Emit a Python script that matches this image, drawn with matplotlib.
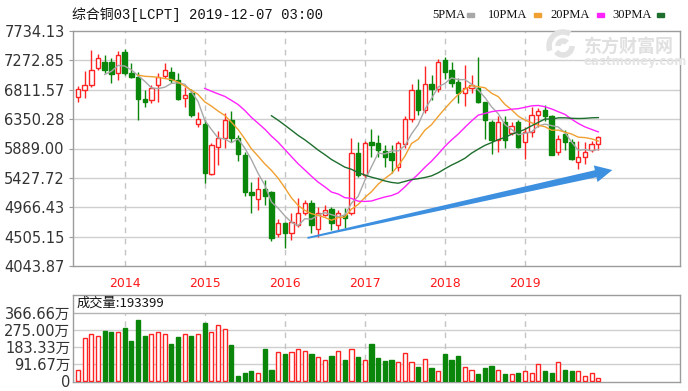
import numpy as np
import pandas as pd
import matplotlib
matplotlib.use('Agg')
import matplotlib.pyplot as plt
from matplotlib.patches import Rectangle, Polygon, Arc
from matplotlib.transforms import IdentityTransform

# ---------------- data ----------------
months = pd.period_range('2013-06', '2019-12', freq='M')

opens = [6700, 6800, 6880, 7153, 7247, 7247, 7074,
         7404, 7074, 7011, 6666, 6651, 6886, 7027, 7090, 6964, 6682, 6760, 6273,
         6274, 5490, 5920, 6060, 6330, 6060, 5780, 5206, 5100, 5250, 5200, 4550,
         4720, 4560, 4690, 4880, 5030, 4630, 4850, 4940, 4680, 4850, 4880, 5820,
         5470, 5990, 5980, 5850, 5820, 5600, 5960, 6350, 6800, 6490, 6900, 6830,
         7279, 7121, 6934, 6760, 6840, 6840, 6620, 6310, 6030, 6300, 6140, 6300,
         5990, 6150, 6420, 6490, 6400, 5840, 6120, 5990, 5680, 5760, 5870, 5960]
highs = [6870, 7110, 7430, 7373, 7357, 7310, 7420,
         7451, 7231, 7090, 6807, 6886, 7074, 7231, 7168, 7074, 6854, 6823, 6462,
         6330, 5975, 6160, 6440, 6480, 6100, 5830, 5360, 5440, 5390, 5220, 4780,
         4740, 4880, 5110, 5080, 5080, 4970, 5000, 4970, 4930, 4950, 6050, 5990,
         6000, 6200, 6100, 5940, 5950, 6000, 6400, 6900, 6980, 7180, 7050, 7300,
         7330, 7247, 6990, 7200, 7040, 7330, 6620, 6340, 6400, 6400, 6300, 6340,
         6230, 6540, 6530, 6570, 6420, 6100, 6180, 6040, 6000, 5990, 6000, 6090]
lows = [6620, 6680, 6850, 7121, 7074, 6917, 6965,
        7040, 7000, 6336, 6540, 6603, 6619, 6996, 6917, 6651, 6541, 6384, 6227,
        5347, 5473, 5630, 5900, 5990, 5700, 5150, 4870, 4930, 5000, 4440, 4500,
        4330, 4460, 4660, 4840, 4560, 4500, 4830, 4610, 4600, 4640, 4850, 5440,
        5420, 5750, 5750, 5600, 5500, 5540, 5900, 6300, 6410, 6450, 6650, 6770,
        6980, 6854, 6600, 6560, 6760, 6600, 6040, 5800, 5830, 5890, 6105, 5890,
        5730, 6070, 6230, 6320, 5780, 5790, 5870, 5710, 5570, 5650, 5840, 5870]
closes = [6820, 6890, 7120, 7310, 7121, 7058, 7357,
          7074, 7011, 6666, 6619, 6839, 7011, 7121, 6964, 6666, 6729, 6415, 6352,
          5504, 5944, 6060, 6330, 6060, 5810, 5210, 5160, 5250, 5150, 4480, 4720,
          4560, 4740, 4880, 5030, 4690, 4880, 4930, 4720, 4880, 4800, 5820, 5470,
          5970, 5950, 5870, 5760, 5710, 5970, 6350, 6800, 6490, 6900, 6830, 7250,
          7090, 6917, 6760, 6840, 6890, 6620, 6340, 6030, 6300, 6030, 6250, 5910,
          6150, 6420, 6480, 6400, 5790, 6040, 5990, 5730, 5760, 5840, 5960, 6070]
# volume in 万 (10,000 lots)
volumes = [61, 229, 252, 244, 271, 264, 264,
           286, 216, 325, 244, 254, 264, 254, 200, 239, 254, 244, 254,
           309, 264, 300, 277, 193, 31, 46, 53, 46, 170, 61, 155,
           147, 155, 170, 160, 147, 130, 115, 137, 160, 115, 170, 130,
           115, 200, 124, 109, 115, 101, 153, 101, 76, 122, 69, 53,
           147, 116, 137, 76, 61, 38, 69, 84, 61, 38, 38, 46,
           53, 46, 92, 53, 46, 101, 61, 55, 53, 29, 44, 19.34]

year_labels = ['2014', '2015', '2016', '2017', '2018', '2019']
price_ticks = [4043.87, 4505.15, 4966.43, 5427.72, 5889.00,
               6350.28, 6811.57, 7272.85, 7734.13]
vol_ticks = [0, 91.67, 183.33, 275.00, 366.66]
vol_tick_labels = ['0', '91.67万', '183.33万', '275.00万', '366.66万']
ma_periods = [5, 10, 20, 30]
ma_labels = ['5PMA', '10PMA', '20PMA', '30PMA']
title_text = '综合铜03[LCPT] 2019-12-07 03:00'
vol_title = '成交量:193399'

# ---------------- style ----------------
RED = '#ff2424'
GREEN = '#0a870a'
GRID = '#cfcfcf'
FRAME = '#9c9c9c'
MA_COLORS = ['#a8a8a8', '#f0a030', '#ff22ff', '#1e6e2e']
CJK = 'Noto Sans CJK SC'

opens = np.array(opens, float)
highs = np.array(highs, float)
lows = np.array(lows, float)
closes = np.array(closes, float)
volumes = np.array(volumes, float)
n = len(closes)
x = np.arange(n)
up = closes >= opens
edge = np.where(up, RED, GREEN)
face = np.where(up, 'white', GREEN)
year_pos = [i for i, m in enumerate(months) if m.month == 1]

W, H = 688, 391
fig = plt.figure(figsize=(W / 100, H / 100), dpi=100)
fig.patch.set_facecolor('white')


def fx(px):
    return px / W


def fy(py):
    return 1 - py / H


ax = fig.add_axes([fx(73), fy(266), fx(680) - fx(73), fy(31) - fy(266)])
axv = fig.add_axes([fx(73), fy(382), fx(680) - fx(73), fy(295) - fy(382)])

# ---------------- watermark ----------------
fig.text(fx(584), fy(46), '东方财富网', fontsize=13, color='#e0e0e0',
         fontweight='bold', family=CJK, va='center', ha='left', zorder=0)
fig.text(fx(584), fy(62), 'eastmoney.com', fontsize=8.5, color='#e4e4e4',
         fontweight='bold', family='DejaVu Sans', va='center', ha='left', zorder=0)
for r, t1, t2 in [(14, 60, 200), (9, 220, 360), (5, 40, 180)]:
    fig.patches.append(Arc((563, H - 46), 2 * r, 2 * r, theta1=t1, theta2=t2,
                           lw=4, color='#e2e2e2', transform=IdentityTransform(),
                           figure=fig, zorder=0))

# ---------------- main price panel ----------------
ax.set_facecolor('none')
ax.set_xlim(-0.75, 90.25)
ax.set_ylim(price_ticks[0], price_ticks[-1])
for p in price_ticks[1:-1]:
    ax.axhline(p, color=GRID, lw=1, zorder=1)
for xp in year_pos:
    ax.axvline(xp, color='#c4c4c4', lw=1, ls=(0, (4, 4)), zorder=1)

ax.vlines(x, lows, highs, colors=edge, lw=1, zorder=3)
body_bottom = np.minimum(opens, closes)
body_h = np.maximum(np.abs(closes - opens), 14)
ax.bar(x, body_h, bottom=body_bottom, width=0.66, color=face,
       edgecolor=edge, linewidth=1, zorder=4)

cs = pd.Series(closes)
for per, col in zip(ma_periods, MA_COLORS):
    ax.plot(x, cs.rolling(per).mean(), color=col, lw=1, zorder=5)

ax.set_yticks(price_ticks)
ax.set_yticklabels([f'{p:.2f}' for p in price_ticks], fontsize=10.5,
                   color='#333333', family='DejaVu Sans')
ax.set_xticks(year_pos)
ax.set_xticklabels(year_labels, fontsize=9, color='#ff1a1a', family='DejaVu Sans')
ax.tick_params(axis='y', length=3, color=FRAME, pad=3)
ax.tick_params(axis='x', length=0, pad=8)
for s in ax.spines.values():
    s.set_color(FRAME)
    s.set_linewidth(1)

# trend arrow (annotation, drawn in display space)
fig.canvas.draw()
p0 = ax.transData.transform((34.4, 4484))
p1 = ax.transData.transform((80.1, 5551))
u = (p1 - p0) / np.hypot(*(p1 - p0))
nv = np.array([-u[1], u[0]])
hb = p1 - u * 17
pts = [p0 + nv * 0.9, hb + nv * 3.6, hb + nv * 8.5, p1,
       hb - nv * 8.5, hb - nv * 3.6, p0 - nv * 0.9]
ax.add_patch(Polygon(pts, closed=True, color='#3d8fe0', lw=0,
                     transform=IdentityTransform(), zorder=6))

# ---------------- volume panel ----------------
axv.set_xlim(-0.75, 90.25)
axv.set_ylim(-3, 460)
for v in vol_ticks[1:]:
    axv.axhline(v, color=GRID if v < 366 else '#b4b4b4', lw=1, zorder=1)
for xp in year_pos:
    axv.axvline(xp, ymax=(366.66 + 3) / 463, color='#c4c4c4', lw=1,
                ls=(0, (4, 4)), zorder=1)
axv.bar(x, volumes, width=0.62, color=face, edgecolor=edge, linewidth=1, zorder=3)
axv.set_yticks(vol_ticks)
axv.set_yticklabels(vol_tick_labels, fontsize=10.5, color='#333333',
                    family=['DejaVu Sans', CJK])
axv.set_xticks([])
axv.tick_params(axis='y', length=0, pad=2)
for s in axv.spines.values():
    s.set_color(FRAME)
    s.set_linewidth(1)
axv.text(0.006, (419 + 3) / 463, vol_title, transform=axv.transAxes,
         fontsize=9.5, family=[CJK, 'DejaVu Sans'], va='center', ha='left',
         color='#111111')

# ---------------- header ----------------
fig.text(fx(72), fy(15), title_text, fontsize=10,
         family=['Liberation Mono', CJK], va='center', ha='left', color='#111111')
legend_x = [432, 488, 550, 612]
box_x = [467, 534, 597, 657]
for lab, lx, bx, col in zip(ma_labels, legend_x, box_x, MA_COLORS):
    fig.text(fx(lx), fy(15), lab, fontsize=9, family='Liberation Serif',
             va='center', ha='left', color='#111111')
    fig.patches.append(Rectangle((fx(bx), fy(17)), 7 / W, 4 / H, color=col,
                                 transform=fig.transFigure, figure=fig))

fig.savefig('out.png', dpi=100)
